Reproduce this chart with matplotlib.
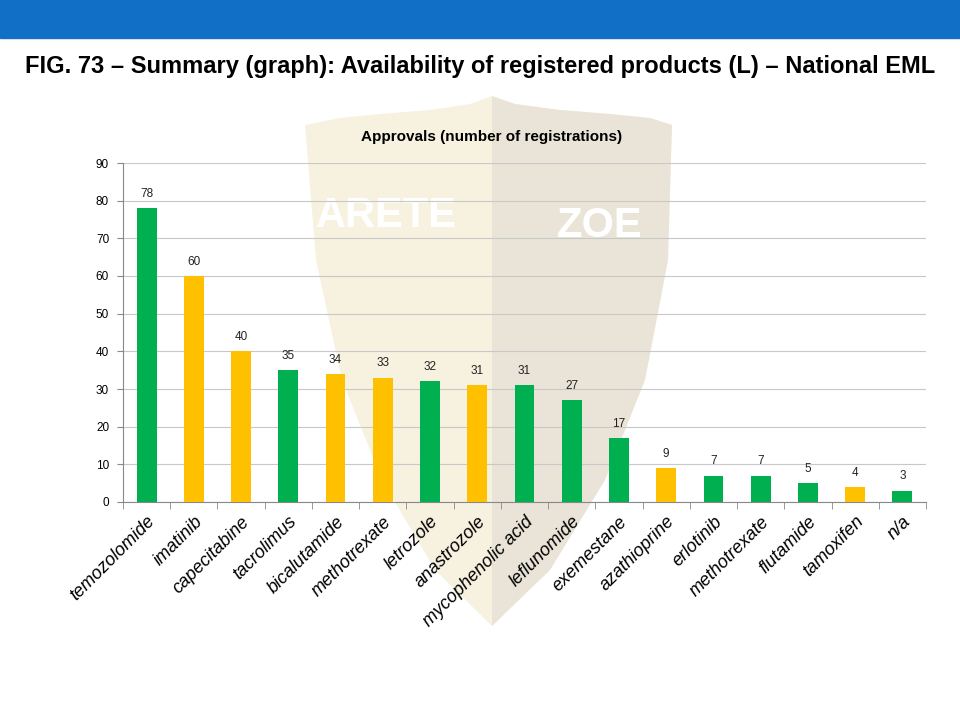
import matplotlib
matplotlib.use("Agg")
import matplotlib.pyplot as plt
from matplotlib.patches import Polygon, Rectangle
import numpy as np

categories = ["temozolomide", "imatinib", "capecitabine", "tacrolimus", "bicalutamide",
              "methotrexate", "letrozole", "anastrozole", "mycophenolic acid", "leflunomide",
              "exemestane", "azathioprine", "erlotinib", "methotrexate", "flutamide",
              "tamoxifen", "n/a"]
values = [78, 60, 40, 35, 34, 33, 32, 31, 31, 27, 17, 9, 7, 7, 5, 4, 3]
groups = ["g", "y", "y", "g", "y", "y", "g", "y", "g", "g", "g", "y", "g", "g", "g", "y", "g"]
yticks = [0, 10, 20, 30, 40, 50, 60, 70, 80, 90]

GREEN = "#00B050"
YELLOW = "#FFC000"

plt.rcParams['font.family'] = ['Liberation Sans', 'DejaVu Sans']

fig = plt.figure(figsize=(9.6, 7.2), dpi=100)
W, H = 960, 720

def fx(px):
    return px / W

def fy(py):
    return 1 - py / H

# background layer in pixel coordinates
bg = fig.add_axes([0, 0, 1, 1], zorder=-1)
bg.set_xlim(0, W)
bg.set_ylim(H, 0)
bg.axis("off")
bg.add_patch(Rectangle((0, 0), W, 38, color="#1170C6", zorder=0))

shield = [(305, 125), (340, 118), (380, 114), (430, 110), (470, 104), (492, 96), (515, 104),
          (560, 110), (610, 114), (650, 118), (672, 125), (668, 260), (645, 380), (605, 480),
          (550, 570), (492, 626), (435, 570), (382, 480), (342, 380), (316, 260)]
bg.add_patch(Polygon(shield, closed=True, facecolor="#F2E8CC", edgecolor="none",
                     alpha=0.6, zorder=1))
shield_r = [(492, 96), (515, 104), (560, 110), (610, 114), (650, 118), (672, 125), (668, 260),
            (645, 380), (605, 480), (550, 570), (492, 626)]
bg.add_patch(Polygon(shield_r, closed=True, facecolor="#DCD8D0", edgecolor="none",
                     alpha=0.5, zorder=2))
bg.text(386, 216, "ARETE", fontsize=30, fontweight="bold", color="white",
        ha="center", va="center", zorder=3)
bg.text(600, 226, "ZOE", fontsize=30, fontweight="bold", color="white",
        ha="center", va="center", zorder=3)

fig.text(fx(480), fy(66), "FIG. 73 \u2013 Summary (graph): Availability of registered products (L) \u2013 National EML",
         ha="center", va="center", fontsize=17, fontweight="bold", color="black")
fig.text(fx(492), fy(137), "Approvals (number of registrations)",
         ha="center", va="center", fontsize=11, fontweight="bold", color="black")

ax = fig.add_axes([fx(123), fy(502), fx(926) - fx(123), fy(163) - fy(502)], zorder=1)
ax.patch.set_alpha(0)

x = np.arange(len(categories))
colors = [GREEN if g == "g" else YELLOW for g in groups]
ax.bar(x, values, width=0.42, color=colors, zorder=3)
for xi, v in zip(x, values):
    ax.text(xi, v + 2.2, str(v), ha="center", va="bottom", fontsize=8.5, color="#222222", zorder=4)

ax.set_xlim(-0.5, len(categories) - 0.5)
ax.set_ylim(0, 90)
ax.set_yticks(yticks)
ax.set_yticklabels([str(t) for t in yticks], fontsize=8.5)
ax.grid(axis="y", color="#C8C8C8", linewidth=0.8, zorder=0)
ax.set_axisbelow(True)
for s in ["top", "right"]:
    ax.spines[s].set_visible(False)
ax.spines["left"].set_color("#888888")
ax.spines["bottom"].set_color("#888888")
ax.tick_params(axis="y", length=4, color="#888888", pad=6)

ax.set_xticks(x)
ax.set_xticklabels(categories, rotation=45, ha="right", rotation_mode="anchor",
                   fontsize=13, style="italic")
ax.tick_params(axis="x", length=0, pad=8)
ax.set_xticks(np.arange(-0.5, len(categories), 1.0), minor=True)
ax.tick_params(axis="x", which="minor", length=5, color="#888888")

fig.savefig("out.png", dpi=100)
